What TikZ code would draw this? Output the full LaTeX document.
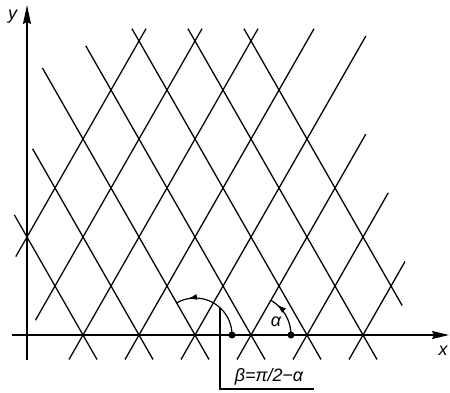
\documentclass[tikz,border=0pt]{standalone}
\usepackage{fontspec}
\setmainfont{Liberation Sans}
\usetikzlibrary{arrows.meta,decorations.markings}
\begin{document}
\begin{tikzpicture}[x=28bp,y=49bp,
  gridline/.style={line width=1.3bp},
  axisline/.style={line width=1.5bp},
  lbl/.style={font=\fontsize{18}{18}\selectfont\itshape, inner sep=0pt},
  markdot/.style={circle,fill,inner sep=0pt,minimum size=7bp},
  anglearc/.style={line width=1.2bp},
  midarrow/.style={postaction={decorate},decoration={markings,
     mark=at position #1 with {\arrow{Latex[length=9bp,width=6bp]}}}}]
\useasboundingbox (-27bp,-58bp) rectangle (423bp,335bp);

% grid lines rising (X - Y = const)
\foreach \xa/\ya/\xb/\yb in {-0.4/1.6/4.25/6.25, 0.3/0.3/6.25/6.25,
  1.5/-0.5/8.25/6.25, 3.5/-0.5/10.25/6.25, 5.5/-0.5/12.1/6.1,
  7.5/-0.5/12.1/4.1, 9.5/-0.5/12.9/2.9, 11.5/-0.5/13.5/1.5}
  \draw[gridline] (\xa,\ya) -- (\xb,\yb);
% grid lines falling (X + Y = const)
\foreach \xa/\ya/\xb/\yb in {-0.45/2.45/2.5/-0.5, 0.2/3.8/4.5/-0.5,
  0.55/5.45/6.5/-0.5, 2.1/5.9/8.5/-0.5, 3.75/6.25/10.5/-0.5,
  5.75/6.25/12.5/-0.5, 7.75/6.25/13.4/0.6}
  \draw[gridline] (\xa,\ya) -- (\xb,\yb);

% axes
\coordinate (xs) at (-15bp,0);
\coordinate (xe) at (422bp,0);
\coordinate (ys) at (0,-25bp);
\coordinate (ye) at (0,330bp);
\draw[axisline,-{Stealth[length=17bp,width=8bp,inset=2bp]}] (xs) -- (xe);
\draw[axisline,-{Stealth[length=19bp,width=8bp,inset=2bp]}] (ys) -- (ye);
\node[lbl] (ylab) at (-14.5bp,318bp) {y};
\node[lbl] (xlab) at (416bp,-16bp) {x};

% angle alpha
\coordinate (ca) at (8,0);
\node[markdot] (da) at ([shift={(40bp,0)}]ca) {};
\draw[anglearc,midarrow=0.82] (da.center) arc[start angle=0,end angle=60,radius=40bp];
\node[lbl] (alab) at (249bp,13bp) {α};

% angle beta
\coordinate (cb) at (6,0);
\node[markdot] (db) at ([shift={(37bp,0)}]cb) {};
\draw[anglearc,midarrow=0.84] (db.center) arc[start angle=0,end angle=120,radius=37bp];
\coordinate (bl) at ([shift={(47.5:37bp)}]cb);
\coordinate (bu) at (287bp,-54bp);
\draw[line width=1.1bp] (bl) |- (bu);
\node[lbl,font=\fontsize{18}{18}\selectfont\itshape] (blab) at (242bp,-42bp) {β=π/2−α};
\end{tikzpicture}
\end{document}
